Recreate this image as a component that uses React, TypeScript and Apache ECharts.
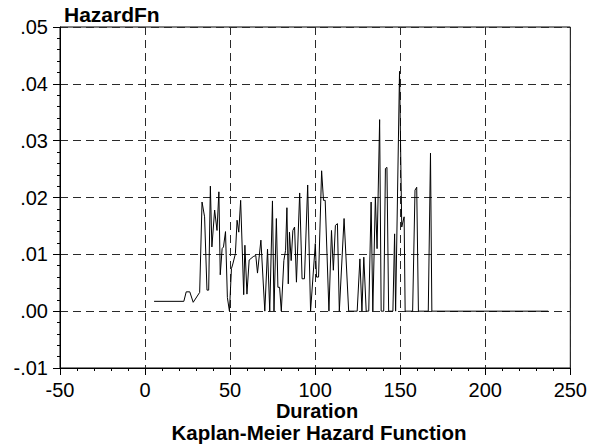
import React, { useEffect, useRef } from "react";
import * as echarts from "echarts";

const durations = [
  5.3, 22.8, 24.2, 26.3, 28.3, 32.1, 33.5, 35.0, 36.4, 37.4,
  38.4, 39.3, 40.9, 42.3, 43.4, 44.2, 45.3, 46.1, 47.3, 48.4,
  49.6, 50.8, 51.6, 53.1, 54.1, 55.1, 56.2, 58.0, 58.7, 59.9,
  61.2, 63.6, 65.1, 66.1, 68.1, 70.4, 72.0, 73.3, 74.9, 75.8,
  77.2, 78.1, 79.1, 80.1, 81.6, 82.6, 83.4, 84.2, 84.9, 85.9,
  86.9, 87.9, 89.0, 90.9, 92.3, 93.7, 95.6, 97.3, 100.1, 100.8,
  102.0, 103.8, 104.9, 105.9, 108.1, 109.6, 110.7, 111.9, 113.1, 114.2,
  117.0, 119.7, 124.7, 126.3, 127.5, 128.6, 130.0, 131.5, 132.9, 133.9,
  135.4, 136.4, 137.9, 138.8, 140.3, 141.3, 142.2, 143.2, 145.7, 146.7,
  147.3, 149.6, 150.9, 152.3, 152.9, 157.3, 158.7, 159.7, 160.7, 166.5,
  167.8, 168.6, 237,
];

const hazard = [
  0.00173, 0.00173, 0.0034, 0.0034, 0.00156, 0.0033, 0.0192, 0.0166, 0.0037, 0.0037,
  0.022, 0.0113, 0.0178, 0.0142, 0.021, 0.0064, 0.011, 0.0113, 0.014, 0.0024,
  0, 0.0075, 0.0083, 0.0101, 0.016, 0.0139, 0.0195, 0.0029, 0.0116, 0.003,
  0.009, 0.0096, 0.0098, 0.0067, 0.0125, 0, 0.0109, 0, 0.0194, 0,
  0.0163, 0.0042, 0.0042, 0, 0.0089, 0.0107, 0.0182, 0.0048, 0.0139, 0.0089,
  0.0142, 0.0148, 0.0051, 0.0208, 0.0057, 0.0057, 0.0222, 0, 0.0119, 0.006,
  0.006, 0.0247, 0.0195, 0.0195, 0, 0.0142, 0.0072, 0.0151, 0.0154, 0,
  0.0163, 0, 0, 0.0092, 0, 0.0095, 0, 0, 0.0192, 0,
  0.0201, 0.011, 0.0337, 0, 0, 0.0251, 0.0253, 0, 0, 0.0136,
  0, 0.0422, 0.0148, 0.0166, 0, 0, 0.0213, 0.0218, 0, 0,
  0.0278, 0, 0,
];

const xTicks = { min: -50, max: 250, interval: 50 };
const yTicks = { min: -0.01, max: 0.05, interval: 0.01 };

const yAxisTitle = "HazardFn";
const xAxisTitle = "Duration";
const chartTitle = "Kaplan-Meier Hazard Function";

const FONT = "'Liberation Sans', Arial, sans-serif";

function fmtY(v: number): string {
  const r = Math.round(v * 100) / 100;
  const s = Math.abs(r).toFixed(2).replace(/^0/, "");
  return (r < 0 ? "-" : "") + s;
}

export default function App() {
  const ref = useRef<HTMLDivElement>(null);
  useEffect(() => {
    if (!ref.current) return;
    const chart = echarts.init(ref.current, undefined, { renderer: "svg" });
    const data = durations.map((d, i) => [d, hazard[i]]);
    const gridLine = { show: true, lineStyle: { color: "#2a2a2a", width: 1, type: [8, 5] as any } };
    chart.setOption({
      animation: false,
      backgroundColor: "#fff",
      grid: { left: 60, right: 18, top: 27, bottom: 80, show: true, borderColor: "#000", borderWidth: 1, backgroundColor: "transparent" },
      xAxis: {
        type: "value",
        min: xTicks.min,
        max: xTicks.max,
        interval: xTicks.interval,
        axisLine: { show: true, onZero: false, lineStyle: { color: "#000", width: 1 } },
        axisTick: { show: true, inside: false, length: 7, lineStyle: { color: "#000" } },
        minorTick: { show: true, splitNumber: 5, length: 3, lineStyle: { color: "#000" } },
        axisLabel: { color: "#000", fontFamily: FONT, fontSize: 20, lineHeight: 18, margin: 13 },
        splitLine: gridLine,
      },
      yAxis: {
        type: "value",
        min: yTicks.min,
        max: yTicks.max,
        interval: yTicks.interval,
        axisLine: { show: true, onZero: false, lineStyle: { color: "#000", width: 1 } },
        axisTick: { show: true, inside: false, length: 7, lineStyle: { color: "#000" } },
        minorTick: { show: true, splitNumber: 5, length: 3, lineStyle: { color: "#000" } },
        axisLabel: { color: "#000", fontFamily: FONT, fontSize: 20, margin: 12, formatter: fmtY },
        splitLine: gridLine,
      },
      graphic: [
        { type: "text", x: 64, y: 14, style: { text: yAxisTitle, fill: "#000", font: `bold 21px ${FONT}`, align: "left", verticalAlign: "middle" } },
        { type: "text", x: 317, y: 410.5, style: { text: xAxisTitle, fill: "#000", font: `bold 20px ${FONT}`, lineHeight: 18, align: "center", verticalAlign: "middle" } },
        { type: "text", x: 319, y: 432, style: { text: chartTitle, fill: "#000", font: `bold 20.5px ${FONT}`, lineHeight: 20, align: "center", verticalAlign: "middle" } },
      ],
      series: [
        {
          type: "line",
          data,
          showSymbol: false,
          symbol: "none",
          lineStyle: { color: "#000", width: 1 },
          z: 5,
        },
      ],
    });
    return () => chart.dispose();
  }, []);
  return <div ref={ref} style={{ width: 590, height: 448, position: "absolute", left: 0, top: 0 }} />;
}
